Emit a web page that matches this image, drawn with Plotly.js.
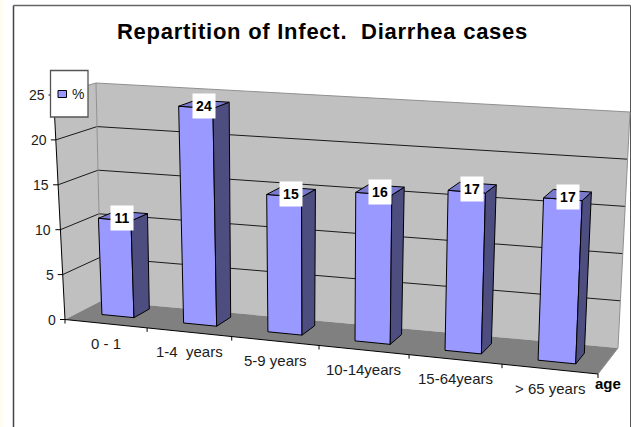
<!DOCTYPE html>
<html><head><meta charset="utf-8">
<script src="https://cdn.plot.ly/plotly-3.0.1.min.js"></script>
<style>html,body{margin:0;padding:0;background:#fff}#c{width:631px;height:427px}.gtitle{letter-spacing:.75px}</style>
</head><body><div id="c"></div>
<script>
var categories = ['0 - 1','1-4\u00A0\u00A0years','5-9 years','10-14years','15-64years','> 65 years'];
var values = [10.8,24,15,16,17,17];
var valueLabels = ['11','24','15','16','17','17'];
var yTicks = [0,5,10,15,20,25];

var W=631,H=427,VMAX=25,NCAT=6;
// corners of the 3D box on the page: [front/back][bottom/top]
var FLB=[65,319.5],FRB=[598,374],BLB=[101,301],BRB=[618,348],
    FLT=[53.5,95],FRT=[608,131],BLT=[96,83],BRT=[630,112];
var K=0.01493;
function T(u){return u*(1-NCAT*K)/(NCAT*(1-K*u));}
function lerp(a,b,s){return [a[0]+(b[0]-a[0])*s,a[1]+(b[1]-a[1])*s];}
function P(u,v,w){
  var t=T(u),s=v/VMAX;
  var fb=lerp(FLB,FRB,t),ft=lerp(FLT,FRT,t),bb=lerp(BLB,BRB,t),bt=lerp(BLT,BRT,t);
  return lerp(lerp(fb,ft,s),lerp(bb,bt,s),w);
}
function Poly(){this.x=[];this.y=[];}
Poly.prototype.add=function(pts){var me=this;pts.forEach(function(p){me.x.push(p[0]);me.y.push(p[1]);});me.x.push(null);me.y.push(null);};
function face(pts,fill,line,lw,name){
  var p=new Poly();pts.forEach(function(q){p.add(q.concat([q[0]]));});
  return {type:'scatter',mode:'lines',x:p.x,y:p.y,fill:'toself',fillcolor:fill,line:{color:line,width:lw},hoverinfo:'skip',showlegend:false,name:name||''};
}
function lines(segs,color,w){
  var p=new Poly();segs.forEach(function(s){p.add(s);});
  return {type:'scatter',mode:'lines',x:p.x,y:p.y,line:{color:color,width:w},hoverinfo:'skip',showlegend:false};
}
var traces=[];
traces.push(face([[FLB,FLT,BLT,BLB]],'#C0C0C0','#C0C0C0',0));
traces.push(face([[BLB,BLT,BRT,BRB]],'#C0C0C0','#C0C0C0',0));
traces.push(face([[FLB,FRB,BRB,BLB]],'#808080','#808080',0));
// gridlines
var g=[];
yTicks.forEach(function(v){ if(v>0&&v<VMAX) g.push([P(0,v,0),P(0,v,1),P(NCAT,v,1)]); });
traces.push(lines(g,'#1a1a1a',1));
traces.push(lines([[P(0,VMAX,0),P(0,VMAX,1),P(NCAT,VMAX,1),P(NCAT,0,1),P(NCAT,0,0)],[P(0,0,1),P(0,VMAX,1)]],'#909090',1));
// bars
var UOFF=0.285,UW=0.395,USTEP=1.006;
function barLeft(i){return i*USTEP+UOFF;}
var fr=[],sd=[],tp=[];
values.forEach(function(val,i){
  var a=barLeft(i),b=a+UW,tm=T(a+UW/2),wf=0.4-0.13*tm,wb=0.85-0.17*tm;
  fr.push([P(a,0,wf),P(b,0,wf),P(b,val,wf),P(a,val,wf)]);
  sd.push([P(b,0,wf),P(b,0,wb),P(b,val,wb),P(b,val,wf)]);
  tp.push([P(a,val,wf),P(b,val,wf),P(b,val,wb),P(a,val,wb)]);
});
traces.push(face(fr,'#9999FF','#000000',1,'%'));
traces.push(face(sd,'#4D4D80','#000000',1));
traces.push(face(tp,'#7A7ACC','#000000',1));
// axis edges
var ticks=[];
yTicks.forEach(function(v){var p=P(0,v,0);ticks.push([[p[0]-5,p[1]],p]);});
for(var i=0;i<=NCAT;i++){var p=P(i,0,0);ticks.push([p,[p[0],p[1]+4]]);}
ticks.push([P(0,VMAX,0),P(0,0,0),P(NCAT,0,0)]);
traces.push(lines(ticks,'#000000',1));

var ann=[];
var FAM='Liberation Sans, Arial, sans-serif';
var lab={family:FAM,size:14,color:'#1c1c1c'};
var catLab={family:FAM,size:15,color:'#1c1c1c'};
yTicks.forEach(function(v){var p=P(0,v,0);
  ann.push({xref:'x',yref:'y',x:p[0]-7,y:p[1],text:String(v),showarrow:false,xanchor:'right',yanchor:'middle',font:lab});});
categories.forEach(function(c,i){var p=P(i+0.5,0,0);
  ann.push({xref:'x',yref:'y',x:p[0],y:p[1]+19.5,text:c,showarrow:false,xanchor:'center',yanchor:'middle',font:catLab});});
values.forEach(function(val,i){var a=i+UOFF+UW/2,tm=T(a),w=0.625-0.15*tm,p=P(a,val,w);
  ann.push({xref:'x',yref:'y',x:p[0]-1+4.5*tm,y:p[1]+2,text:'<b>'+valueLabels[i]+'</b>',showarrow:false,xanchor:'center',yanchor:'middle',width:22,height:24,bgcolor:'#FFFFFF',borderpad:0,
    font:{family:FAM,size:14,color:'#000'}});});
var ageP=P(NCAT,0,0);
ann.push({xref:'x',yref:'y',x:ageP[0]+10,y:ageP[1]+9,text:'<b>age</b>',showarrow:false,xanchor:'center',yanchor:'middle',font:{family:FAM,size:15,color:'#000'}});
ann.push({xref:'x',yref:'y',x:77.5,y:94,text:'%',showarrow:false,xanchor:'center',yanchor:'middle',font:lab});

var shapes=[
 {type:'rect',xref:'x',yref:'y',x0:0,x1:3.5,y0:0,y1:427,fillcolor:'#FFFDF0',line:{width:0},layer:'below'},
 {type:'rect',xref:'x',yref:'y',x0:50.5,x1:88,y0:70.5,y1:117,fillcolor:'#fff',line:{color:'#555',width:1.3},layer:'above'},
 {type:'rect',xref:'x',yref:'y',x0:58,x1:66.5,y0:90.5,y1:97.5,fillcolor:'#9999FF',line:{color:'#000',width:1},layer:'above'},
 {type:'line',xref:'x',yref:'y',x0:13.5,x1:13.5,y0:5.5,y1:427,line:{color:'#444',width:1.5},layer:'below'},
 {type:'line',xref:'x',yref:'y',x0:13.5,x1:630.5,y0:5.5,y1:5.5,line:{color:'#666',width:1.3},layer:'below'},
 {type:'line',xref:'x',yref:'y',x0:630.5,x1:630.5,y0:5.5,y1:427,line:{color:'#555',width:1},layer:'below'}
];
var layout={width:W,height:H,margin:{l:0,r:0,t:0,b:0},paper_bgcolor:'#fff',plot_bgcolor:'#fff',showlegend:false,
 title:{text:'<b>Repartition of Infect.\u00A0\u00A0Diarrhea cases</b>',x:322.5/W,y:1-31/H,xanchor:'center',yanchor:'middle',font:{family:FAM,size:22,color:'#000'}},
 xaxis:{range:[0,W],visible:false,fixedrange:true},
 yaxis:{range:[H,0],visible:false,fixedrange:true},
 shapes:shapes,annotations:ann};
Plotly.newPlot('c',traces,layout,{displayModeBar:false,staticPlot:true});
</script></body></html>
